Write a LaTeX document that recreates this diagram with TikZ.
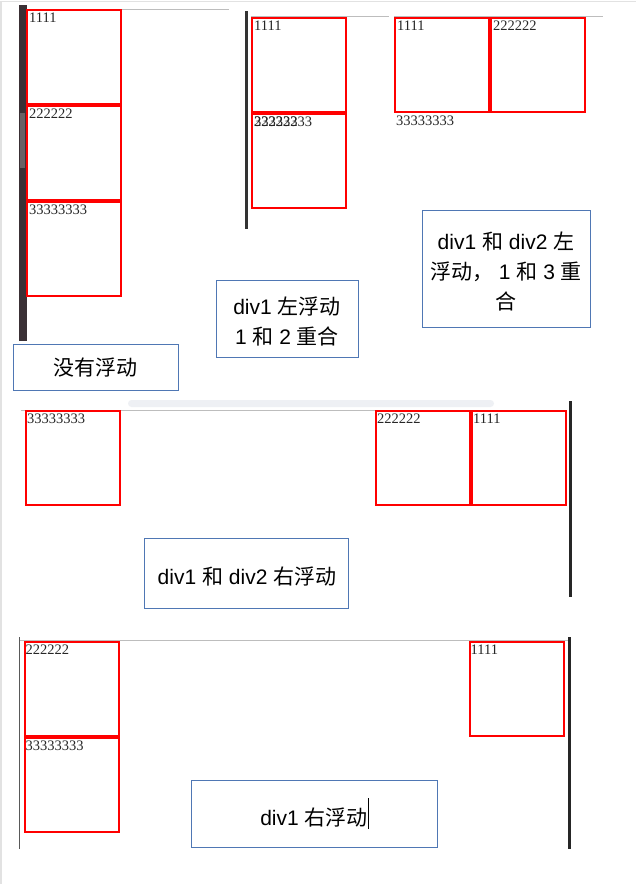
\documentclass[tikz,border=0pt]{standalone}
\usepackage{fontspec}
\setmainfont{Liberation Serif}
\newfontfamily\sansf{Liberation Sans}
\newfontfamily\cjk{Noto Sans CJK SC}
\newcommand\zh[1]{{\cjk #1}}
\definecolor{boxblue}{HTML}{4F77B4}
\definecolor{barclr}{HTML}{3A3035}
\definecolor{thumbclr}{HTML}{6A6064}
\definecolor{ruleclr}{HTML}{BDBDBD}
\definecolor{frameclr}{HTML}{E2E2E2}
\definecolor{pillclr}{HTML}{EEF0F4}
\tikzset{
  redbox/.style={draw=red, line width=2pt, minimum width=94pt, minimum height=94pt, inner sep=0pt, outer sep=0pt, anchor=north west},
  lbl/.style={font=\fontsize{14.5}{16}\selectfont, text=black!85, inner sep=0pt, anchor=north west},
  bluebox/.style={draw=boxblue, line width=0.9pt, fill=white, inner sep=0pt, outer sep=0pt},
  btext/.style={font=\sansf\fontsize{21}{30}\selectfont, align=center, inner sep=0pt},
  toprule/.style={draw=ruleclr, line width=1pt},
}
\begin{document}
\begin{tikzpicture}[x=1pt,y=-1pt]
\useasboundingbox (0,0) rectangle (636,884);
\fill[white] (0,0) rectangle (636,884);
\draw[frameclr, line width=1.5pt] (0.75,884) -- (0.75,1.25) -- (636,1.25);

% ---------- panel 1: no float ----------
\fill[barclr] (19,5) rectangle (26.5,341);
\fill[thumbclr] (19.5,113) rectangle (25,168);
\draw[toprule] (27,9) -- (229,9);
\node[redbox] (p1a) at (27,10) {};
\node[redbox] (p1b) at (27,106) {};
\node[redbox] (p1c) at (27,202) {};
\node[lbl] (l1a) at ([shift={(2,3)}]p1a.north west) {1111};
\node[lbl] (l1b) at ([shift={(2,3)}]p1b.north west) {222222};
\node[lbl] (l1c) at ([shift={(2,3)}]p1c.north west) {33333333};
\node[bluebox, minimum width=165pt, minimum height=46pt] (b1) at (95.5,367) {};
\node[btext] (t1) at (95.5,368) {\zh{没有浮动}};

% ---------- panel 2: div1 float left ----------
\fill[black!80] (245,11) rectangle (247.5,229);
\draw[toprule] (251,16.5) -- (389,16.5);
\node[redbox] (p2a) at (252,18) {};
\node[redbox] (p2b) at (252,114) {};
\node[lbl] (l2a) at ([shift={(2,3)}]p2a.north west) {1111};
\node[lbl] (l2b) at ([shift={(2,3)}]p2b.north west) {222222};
\node[lbl] (l2c) at ([shift={(2,3)}]p2b.north west) {33333333};
\node[bluebox, minimum width=142pt, minimum height=77pt] (b2) at (287,318.5) {};
\node[btext] (t2) at (287,321) {div1 \zh{左浮动}\\1 \zh{和} 2 \zh{重合}};

% ---------- panel 3: div1 and div2 float left ----------
\draw[toprule] (394,16.5) -- (603,16.5);
\node[redbox] (p3a) at (395,18) {};
\node[redbox] (p3b) at (491,18) {};
\node[lbl] (l3a) at ([shift={(2,3)}]p3a.north west) {1111};
\node[lbl] (l3b) at ([shift={(2,3)}]p3b.north west) {222222};
\node[lbl] (l3c) at ([shift={(1,4)}]p3a.south west) {33333333};
\node[bluebox, minimum width=168pt, minimum height=117pt] (b3) at (506,268.5) {};
\node[btext] (t3) at (506,271) {div1 \zh{和} div2 \zh{左}\\\zh{浮动，} 1 \zh{和} 3 \zh{重}\\\zh{合}};

% ---------- panel 4: div1 and div2 float right ----------
\fill[pillclr, rounded corners=3.5pt] (128,400) rectangle (494,407);
\draw[toprule] (21,410) -- (567,410);
\fill[black!85] (568.5,401) rectangle (572,597);
\node[redbox] (p4c) at (26,411) {};
\node[redbox] (p4b) at (376,411) {};
\node[redbox] (p4a) at (472,411) {};
\node[lbl] (l4c) at ([shift={(1,3)}]p4c.north west) {33333333};
\node[lbl] (l4b) at ([shift={(1,3)}]p4b.north west) {222222};
\node[lbl] (l4a) at ([shift={(1,3)}]p4a.north west) {1111};
\node[bluebox, minimum width=204pt, minimum height=70pt] (b4) at (246,573) {};
\node[btext] (t4) at (247,577) {div1 \zh{和} div2 \zh{右浮动}};

% ---------- panel 5: div1 float right ----------
\draw[black!65, line width=1.2pt] (19.5,637) -- (19.5,849);
\draw[toprule] (20,640) -- (568,640);
\fill[black!85] (567.5,637) rectangle (570.5,849);
\node[redbox] (p5b) at (25,642) {};
\node[redbox] (p5c) at (25,738) {};
\node[redbox] (p5a) at (470,642) {};
\node[lbl] (l5b) at ([shift={(0.5,3)}]p5b.north west) {222222};
\node[lbl] (l5c) at ([shift={(0.5,3)}]p5c.north west) {33333333};
\node[lbl] (l5a) at ([shift={(0.5,3)}]p5a.north west) {1111};
\node[bluebox, minimum width=246pt, minimum height=67pt] (b5) at (314,813.5) {};
\node[btext] (t5) at (314,818) {div1 \zh{右浮动}};
\draw[black, line width=0.8pt] (368.5,798) -- (368.5,829);
\end{tikzpicture}
\end{document}
